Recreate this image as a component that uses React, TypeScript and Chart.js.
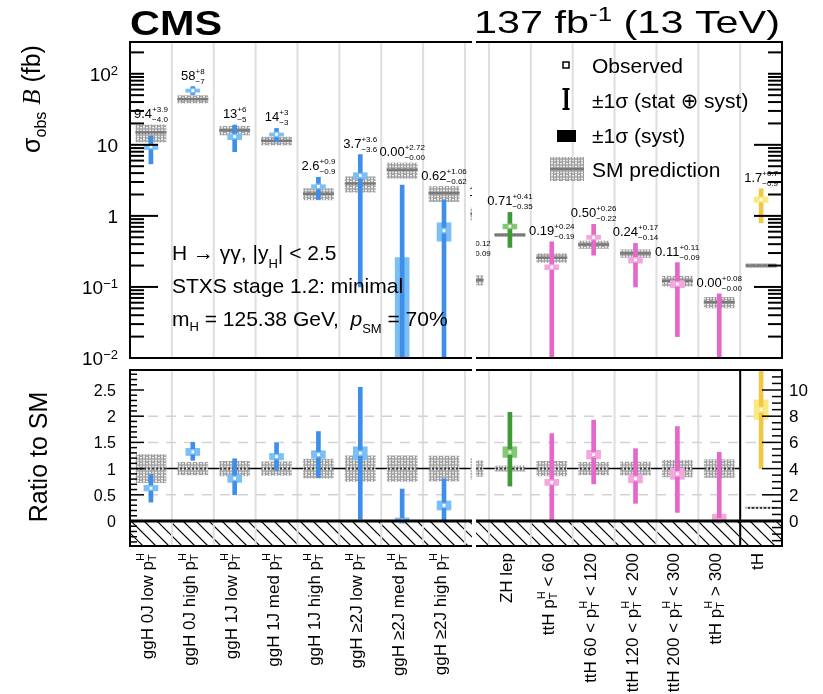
import { useEffect, useRef } from 'react';
import { Chart, registerables } from 'chart.js';

Chart.register(...registerables);

const PAGE_W = 823;
const PAGE_H = 694;
const SANS = '"Liberation Sans", Arial, Helvetica, "DejaVu Sans", sans-serif';
const SERIF = '"Liberation Serif", "Times New Roman", serif';

/* ---------------- measured cross sections (fb) ---------------- */

// ggH block; the ninth bin straddles the panel edge, so only a sliver of it shows
const ggHBins = [
  'ggH 0J low p_T^H',
  'ggH 0J high p_T^H',
  'ggH 1J low p_T^H',
  'ggH 1J med p_T^H',
  'ggH 1J high p_T^H',
  'ggH ≥2J low p_T^H',
  'ggH ≥2J med p_T^H',
  'ggH ≥2J high p_T^H',
  '',
];
const ggHPos = [0, 1, 2, 3, 4, 5, 6, 7, 8];
const ggHProc = ['ggH', 'ggH', 'ggH', 'ggH', 'ggH', 'ggH', 'ggH', 'ggH', 'ggH'];
const ggHObs = [9.4, 58, 13, 14, 2.6, 3.7, 0.0, 0.62, 1.1];
const ggHUp = [3.9, 8, 6, 3, 0.9, 3.6, 2.72, 1.06, 0.4];
const ggHDown = [4.0, 7, 5, 3, 0.9, 3.6, 0.0, 0.62, 0.4];
const ggHSyst = [0.8, 3, 1.2, 0.7, 0.15, 0.35, 0.26, 0.18, 0.1];
const ggHSM = [15, 44, 16, 11.4, 2.05, 2.86, 4.46, 2.09, 1.07];
const ggHSMUnc = [0.27, 0.12, 0.14, 0.13, 0.18, 0.245, 0.245, 0.24, 0.2];
const ggHDigits = [1, 0, 0, 0, 1, 1, 2, 2, 1];

// associated-production block; the first bin straddles the panel edge
const assocBins = [
  '',
  'ZH lep',
  'ttH p_T^H < 60',
  'ttH 60 < p_T^H < 120',
  'ttH 120 < p_T^H < 200',
  'ttH 200 < p_T^H < 300',
  'ttH p_T^H > 300',
  'tH',
];
const assocPos = [-1, 0, 1, 2, 3, 4, 5, 6];
const assocProc = ['VH', 'ZH', 'ttH', 'ttH', 'ttH', 'ttH', 'ttH', 'tH'];
const assocObs = [0.13, 0.71, 0.19, 0.5, 0.24, 0.11, 0.0, 1.7];
const assocUp = [0.12, 0.41, 0.24, 0.26, 0.17, 0.11, 0.08, 0.7];
const assocDown = [0.09, 0.35, 0.19, 0.22, 0.14, 0.09, 0.0, 0.9];
const assocSyst = [0.02, 0.055, 0.015, 0.033, 0.024, 0.013, 0.008, 0.15];
const assocSM = [0.125, 0.54, 0.258, 0.395, 0.297, 0.122, 0.061, 0.2];
const assocSMUnc = [0.15, 0.05, 0.14, 0.12, 0.125, 0.16, 0.17, 0.06];
const assocDigits = [2, 2, 2, 2, 2, 2, 2, 1];

/* ---------------- axis ticks ---------------- */
const logTickValues = [0.01, 0.1, 1, 10, 100];
const logTickBase = ['10', '10', '1', '10', '10'];
const logTickPower = ['−2', '−1', '', '', '2'];
const ratioTickValues = [0, 0.5, 1, 1.5, 2, 2.5];
const tHRatioTickValues = [0, 2, 4, 6, 8, 10];
const ratioGridValues = [0.5, 1.5, 2];

/* ---------------- styles & layout ---------------- */
const PROC_STYLE: Record<string, { total: string; syst: string }> = {
  ggH: { total: '#3d8fe8', syst: '#7cbff5' },
  VH: { total: '#e8a33d', syst: '#f5cf8a' },
  ZH: { total: '#3d9a35', syst: '#84c876' },
  ttH: { total: '#e467c9', syst: '#f3a8dd' },
  tH: { total: '#f2c744', syst: '#fbe97f' },
};

type Area = { l: number; r: number; t: number; b: number };
const AREA: Record<string, Area> = {
  tl: { l: 130, r: 472, t: 42, b: 358 },
  tr: { l: 476, r: 782, t: 42, b: 358 },
  bl: { l: 130, r: 472, t: 370, b: 546 },
  br: { l: 476, r: 782, t: 370, b: 546 },
};
const BIN_W = 41.87;
const LEFT_X = [-0.5, -0.5 + (472 - 130) / BIN_W];
const RIGHT_X = [-(509.9 - 476) / BIN_W, (782 - 509.9) / BIN_W];
const SIGMA_RANGE = [0.01, 280];
const RATIO_RANGE = [-(546 - 521) / 52.4, (521 - 370) / 52.4];
const TH_SCALE = 4;

type Block = {
  bins: string[]; pos: number[]; proc: string[]; obs: number[]; up: number[]; down: number[];
  syst: number[]; sm: number[]; smUnc: number[]; digits: number[];
};
const ggHBlock: Block = {
  bins: ggHBins, pos: ggHPos, proc: ggHProc, obs: ggHObs, up: ggHUp, down: ggHDown,
  syst: ggHSyst, sm: ggHSM, smUnc: ggHSMUnc, digits: ggHDigits,
};
const assocBlock: Block = {
  bins: assocBins, pos: assocPos, proc: assocProc, obs: assocObs, up: assocUp, down: assocDown,
  syst: assocSyst, sm: assocSM, smUnc: assocSMUnc, digits: assocDigits,
};

/* ---------------- text helpers ---------------- */
type Seg = { text?: string; sup?: string; sub?: string; font: string; dy?: number; supDy?: number; subDy?: number };

function segWidth(ctx: CanvasRenderingContext2D, s: Seg) {
  ctx.font = s.font;
  if (s.text !== undefined) return ctx.measureText(s.text).width;
  return Math.max(ctx.measureText(s.sup || '').width, ctx.measureText(s.sub || '').width);
}
function segsWidth(ctx: CanvasRenderingContext2D, segs: Seg[]) {
  return segs.reduce((w, s) => w + segWidth(ctx, s), 0);
}
function drawSegs(ctx: CanvasRenderingContext2D, segs: Seg[], x: number, y: number, align = 'left') {
  const total = segsWidth(ctx, segs);
  let cx = align === 'left' ? x : align === 'center' ? x - total / 2 : x - total;
  ctx.textAlign = 'left';
  ctx.textBaseline = 'alphabetic';
  for (const s of segs) {
    const w = segWidth(ctx, s);
    ctx.font = s.font;
    if (s.text !== undefined) {
      ctx.fillText(s.text, cx, y + (s.dy || 0));
    } else {
      if (s.sup) ctx.fillText(s.sup, cx, y + (s.supDy || 0));
      if (s.sub) ctx.fillText(s.sub, cx, y + (s.subDy || 0));
    }
    cx += w;
  }
  return total;
}
function drawFitted(ctx: CanvasRenderingContext2D, segs: Seg[], x: number, y: number, width: number) {
  const w = segsWidth(ctx, segs);
  ctx.save();
  ctx.translate(x, y);
  ctx.scale(width / w, 1);
  drawSegs(ctx, segs, 0, 0, 'left');
  ctx.restore();
}

function valueLabel(b: Block, i: number): Seg[] {
  const d = b.digits[i];
  return [
    { text: b.obs[i].toFixed(d), font: `13px ${SANS}` },
    { sup: '+' + b.up[i].toFixed(d), sub: '−' + b.down[i].toFixed(d), font: `8px ${SANS}`, supDy: -6, subDy: 4 },
  ];
}

function binLabelSegs(label: string): Seg[] {
  const big = `17px ${SANS}`;
  const small = `11px ${SANS}`;
  const out: Seg[] = [];
  const parts = label.split('p_T^H');
  parts.forEach((part, j) => {
    if (part) out.push({ text: part, font: big });
    if (j < parts.length - 1) {
      out.push({ text: 'p', font: big });
      out.push({ sup: 'H', sub: 'T', font: small, supDy: -9, subDy: 3 });
    }
  });
  return out;
}

/* ---------------- drawing helpers ---------------- */
function hLine(ctx: CanvasRenderingContext2D, x1: number, x2: number, y: number) {
  ctx.beginPath();
  ctx.moveTo(x1, y);
  ctx.lineTo(x2, y);
  ctx.stroke();
}
function vLine(ctx: CanvasRenderingContext2D, x: number, y1: number, y2: number) {
  ctx.beginPath();
  ctx.moveTo(x, y1);
  ctx.lineTo(x, y2);
  ctx.stroke();
}

function drawBinGrid(chart: any) {
  const { ctx, chartArea: a, scales } = chart;
  const xs = scales.x;
  ctx.save();
  ctx.strokeStyle = '#dedede';
  ctx.lineWidth = 2;
  for (let p = Math.floor(xs.min) + 0.5; p < xs.max - 0.01; p += 1) {
    if (p <= xs.min + 0.01) continue;
    vLine(ctx, xs.getPixelForValue(p), a.top, a.bottom);
  }
  ctx.restore();
}

function logTicks(ctx: CanvasRenderingContext2D, scale: any, xEdge: number, dir: number) {
  for (let e = -2; e <= 2; e++) {
    for (let m = 1; m <= 9; m++) {
      const v = m * Math.pow(10, e);
      if (v < scale.min * 0.999 || v > scale.max) continue;
      const len = m === 1 && v < 50 ? 28 : 14;
      hLine(ctx, xEdge, xEdge + dir * len, scale.getPixelForValue(v));
    }
  }
}

function linTicks(ctx: CanvasRenderingContext2D, scale: any, xEdge: number, dir: number, step: number, major: number, majorLen: number, minorLen: number) {
  const start = Math.ceil(scale.min / step - 1e-6);
  for (let k = start; k * step <= scale.max + 1e-9; k++) {
    const v = k * step;
    const isMajor = Math.abs(v / major - Math.round(v / major)) < 1e-6;
    hLine(ctx, xEdge, xEdge + dir * (isMajor ? majorLen : minorLen), scale.getPixelForValue(v));
  }
}

function drawValueLabels(chart: any, b: Block) {
  const { ctx, chartArea: a, scales } = chart;
  ctx.save();
  ctx.beginPath();
  ctx.rect(a.left, a.top, a.right - a.left, a.bottom - a.top);
  ctx.clip();
  ctx.fillStyle = '#000';
  b.bins.forEach((_, i) => {
    const px = scales.x.getPixelForValue(b.pos[i]);
    const barTop = scales.y.getPixelForValue(b.obs[i] + b.up[i]);
    const bandTop = scales.y.getPixelForValue(b.sm[i] * (1 + b.smUnc[i]));
    drawSegs(ctx, valueLabel(b, i), px, Math.min(barTop, bandTop) - 7, 'center');
  });
  ctx.restore();
}

function drawBinLabels(chart: any, b: Block) {
  const { ctx, chartArea: a, scales } = chart;
  ctx.save();
  ctx.fillStyle = '#000';
  b.bins.forEach((label, i) => {
    if (!label) return;
    const px = scales.x.getPixelForValue(b.pos[i]);
    if (px < a.left || px > a.right) return;
    ctx.save();
    ctx.translate(px + 2, a.bottom + 7);
    ctx.rotate(-Math.PI / 2);
    drawSegs(ctx, binLabelSegs(label), 0, 0, 'right');
    ctx.restore();
  });
  ctx.restore();
}

function ratioBackground(chart: any, unitLineEnd?: number) {
  const { ctx, chartArea: a, scales } = chart;
  const y = scales.y;
  const y0 = y.getPixelForValue(0);
  const h = a.bottom - y0;
  // hatched region below zero
  ctx.save();
  ctx.beginPath();
  ctx.rect(a.left, y0, a.right - a.left, h);
  ctx.clip();
  ctx.strokeStyle = '#000';
  ctx.lineWidth = 1.1;
  for (let sx = a.left - h; sx < a.right; sx += 13) {
    ctx.beginPath();
    ctx.moveTo(sx, y0);
    ctx.lineTo(sx + h, a.bottom);
    ctx.stroke();
  }
  ctx.restore();
  drawBinGrid(chart);
  ctx.save();
  ctx.strokeStyle = '#d2d2d2';
  ctx.lineWidth = 1.5;
  ctx.setLineDash([10, 8]);
  ratioGridValues.forEach((v) => hLine(ctx, a.left, a.right, y.getPixelForValue(v)));
  ctx.setLineDash([]);
  ctx.strokeStyle = '#000';
  ctx.lineWidth = 1.5;
  const xEnd = unitLineEnd !== undefined ? scales.x.getPixelForValue(unitLineEnd) : a.right;
  hLine(ctx, a.left, xEnd, y.getPixelForValue(1));
  ctx.restore();
}

/* ---------------- datasets ---------------- */
type Patterns = { band: CanvasPattern; dots: CanvasPattern };

function makePatterns(): Patterns {
  // small staggered rings for the SM uncertainty bands
  const bandTile = document.createElement('canvas');
  bandTile.width = 6;
  bandTile.height = 6;
  const g = bandTile.getContext('2d')!;
  g.fillStyle = '#f2f2f2';
  g.fillRect(0, 0, 6, 6);
  g.strokeStyle = '#9c9c9c';
  g.lineWidth = 1.2;
  [[3, 1.5], [0, 4.5], [6, 4.5], [3, 7.5], [3, -1.5]].forEach(([cx, cy]) => {
    g.beginPath();
    g.arc(cx, cy, 1.7, 0, Math.PI * 2);
    g.stroke();
  });
  const dotTile = document.createElement('canvas');
  dotTile.width = 4;
  dotTile.height = 4;
  const d = dotTile.getContext('2d')!;
  d.fillStyle = '#3a3a3a';
  d.fillRect(0, 0, 2, 4);
  const ctx = document.createElement('canvas').getContext('2d')!;
  return {
    band: ctx.createPattern(bandTile, 'repeat')!,
    dots: ctx.createPattern(dotTile, 'repeat')!,
  };
}

function blockDatasets(b: Block, idx: number[], ratio: boolean, yAxisID: string, pat: Patterns) {
  const floor = ratio ? 0 : 1e-4;
  const k = (i: number) => (ratio ? 1 / b.sm[i] : 1);
  const lo = (v: number) => Math.max(v, floor);
  const totalCol = idx.map((i) => PROC_STYLE[b.proc[i]].total);
  const systCol = idx.map((i) => PROC_STYLE[b.proc[i]].syst);
  const common = { yAxisID, clip: 0 };
  return [
    {
      ...common, type: 'scatter', order: 0,
      data: idx.map((i) => ({ x: b.pos[i], y: lo(b.obs[i] * k(i)) })),
      pointStyle: 'rect', pointRadius: 3, pointBackgroundColor: '#ffffff',
      pointBorderColor: systCol, pointBorderWidth: 1.5,
    },
    {
      ...common, type: 'bar', order: 1, grouped: false, barThickness: 4, borderWidth: 0,
      data: idx.map((i) => ({ x: b.pos[i], y: [lo((b.obs[i] - b.down[i]) * k(i)), (b.obs[i] + b.up[i]) * k(i)] })),
      backgroundColor: totalCol,
    },
    {
      ...common, type: 'bar', order: 2, grouped: false, barThickness: 14, borderWidth: 0,
      data: idx.map((i) => ({
        x: b.pos[i],
        y: [lo((b.obs[i] - Math.min(b.syst[i], b.obs[i])) * k(i)), (b.obs[i] + b.syst[i]) * k(i)],
      })),
      backgroundColor: systCol,
    },
    {
      ...common, type: 'scatter', order: 3,
      data: idx.map((i) => ({ x: b.pos[i], y: b.sm[i] * k(i) })),
      pointStyle: 'line', pointRadius: 15.5,
      pointBorderColor: ratio ? pat.dots : '#7a7a7a', pointBorderWidth: ratio ? 2 : 2.5,
    },
    {
      ...common, type: 'bar', order: 4, grouped: false, barThickness: 30, borderWidth: 0,
      data: idx.map((i) => ({
        x: b.pos[i],
        y: [b.sm[i] * (1 - b.smUnc[i]) * k(i), b.sm[i] * (1 + b.smUnc[i]) * k(i)],
      })),
      backgroundColor: pat.band,
    },
  ];
}

function panelConfig(area: Area, xRange: number[], yScales: any, datasets: any[], hooks: any): any {
  return {
    type: 'bar',
    data: { datasets },
    options: {
      responsive: false,
      animation: false,
      devicePixelRatio: 1,
      events: [],
      layout: { padding: { left: area.l, top: area.t, right: PAGE_W - area.r, bottom: PAGE_H - area.b } },
      plugins: { legend: { display: false }, tooltip: { enabled: false } },
      scales: {
        x: { type: 'linear', display: false, min: xRange[0], max: xRange[1], offset: false },
        ...yScales,
      },
    },
    plugins: [{ id: 'panelDecor', beforeDatasetsDraw: hooks.before, afterDatasetsDraw: hooks.after }],
  };
}

/* ---------------- panels ---------------- */
function topLeft(canvas: HTMLCanvasElement, pat: Patterns) {
  const idx = ggHBins.map((_, i) => i);
  return new Chart(canvas, panelConfig(
    AREA.tl, LEFT_X,
    { y: { type: 'logarithmic', display: false, min: SIGMA_RANGE[0], max: SIGMA_RANGE[1] } },
    blockDatasets(ggHBlock, idx, false, 'y', pat),
    {
      before: (chart: any) => drawBinGrid(chart),
      after: (chart: any) => {
        const { ctx, chartArea: a, scales } = chart;
        drawValueLabels(chart, ggHBlock);
        ctx.save();
        ctx.strokeStyle = '#000';
        ctx.lineWidth = 2;
        hLine(ctx, a.left, a.right, a.top);
        hLine(ctx, a.left, a.right, a.bottom);
        vLine(ctx, a.left, a.top - 1, a.bottom + 1);
        logTicks(ctx, scales.y, a.left, 1);
        ctx.fillStyle = '#000';
        logTickValues.forEach((v, i) => {
          const py = scales.y.getPixelForValue(v);
          const segs: Seg[] = [{ text: logTickBase[i], font: `19px ${SANS}` }];
          if (logTickPower[i]) segs.push({ text: logTickPower[i], font: `13px ${SANS}`, dy: -6 });
          drawSegs(ctx, segs, 118, py + 7, 'right');
        });
        // experiment label
        drawFitted(ctx, [{ text: 'CMS', font: `bold 35px ${SANS}` }], 130, 35, 92);
        // analysis annotations
        const f = `21px ${SANS}`;
        const s = `13px ${SANS}`;
        drawSegs(ctx, [{ text: 'H → γγ, |y', font: f }, { text: 'H', font: s, dy: 8 }, { text: '| < 2.5', font: f }], 172, 260);
        drawSegs(ctx, [{ text: 'STXS stage 1.2: minimal', font: f }], 172, 293);
        drawSegs(ctx, [
          { text: 'm', font: f }, { text: 'H', font: s, dy: 5 }, { text: ' = 125.38 GeV,  ', font: f },
          { text: 'p', font: `italic 21px ${SANS}` }, { text: 'SM', font: s, dy: 7 }, { text: ' = 70%', font: f },
        ], 172, 326);
        // axis title
        ctx.save();
        ctx.translate(40, 99);
        ctx.rotate(-Math.PI / 2);
        drawSegs(ctx, [
          { text: 'σ', font: `25px ${SANS}` }, { text: 'obs', font: `16px ${SANS}`, dy: 6 },
          { text: ' ', font: `25px ${SANS}` }, { text: 'B', font: `italic 25px ${SERIF}` },
          { text: ' (fb)', font: `25px ${SANS}` },
        ], 0, 0, 'center');
        ctx.restore();
        ctx.restore();
      },
    },
  ));
}

function topRight(canvas: HTMLCanvasElement, pat: Patterns) {
  const idx = assocBins.map((_, i) => i);
  return new Chart(canvas, panelConfig(
    AREA.tr, RIGHT_X,
    { y: { type: 'logarithmic', display: false, min: SIGMA_RANGE[0], max: SIGMA_RANGE[1] } },
    blockDatasets(assocBlock, idx, false, 'y', pat),
    {
      before: (chart: any) => drawBinGrid(chart),
      after: (chart: any) => {
        const { ctx, chartArea: a, scales } = chart;
        drawValueLabels(chart, assocBlock);
        ctx.save();
        ctx.strokeStyle = '#000';
        ctx.lineWidth = 2;
        hLine(ctx, a.left, a.right, a.top);
        hLine(ctx, a.left, a.right, a.bottom);
        vLine(ctx, a.right, a.top - 1, a.bottom + 1);
        logTicks(ctx, scales.y, a.right, -1);
        // legend
        ctx.lineWidth = 1.5;
        ctx.fillStyle = '#fff';
        ctx.fillRect(563, 62, 6, 6);
        ctx.strokeRect(563, 62, 6, 6);
        ctx.fillStyle = '#000';
        ctx.fillRect(564.5, 89, 3.5, 20);
        ctx.fillRect(562.5, 88, 7, 2);
        ctx.fillRect(562.5, 108, 7, 2);
        ctx.fillRect(557, 130, 19, 12);
        ctx.fillStyle = pat.band;
        ctx.fillRect(550, 157, 34, 24);
        ctx.strokeStyle = '#7a7a7a';
        ctx.lineWidth = 2.5;
        hLine(ctx, 550, 584, 169);
        ctx.fillStyle = '#000';
        const f = `21px ${SANS}`;
        drawSegs(ctx, [{ text: 'Observed', font: f }], 592, 73);
        drawSegs(ctx, [{ text: '±1σ (stat ⊕ syst)', font: f }], 592, 108);
        drawSegs(ctx, [{ text: '±1σ (syst)', font: f }], 592, 143);
        drawSegs(ctx, [{ text: 'SM prediction', font: f }], 592, 177);
        // luminosity label
        drawFitted(ctx, [
          { text: '137 fb', font: `32px ${SANS}` },
          { text: '-1', font: `20px ${SANS}`, dy: -12 },
          { text: ' (13 TeV)', font: `32px ${SANS}` },
        ], 474, 33, 306);
        ctx.restore();
      },
    },
  ));
}

function ratioTickLabelsLeft(chart: any) {
  const { ctx, scales } = chart;
  ctx.fillStyle = '#000';
  ratioTickValues.forEach((v) => {
    drawSegs(ctx, [{ text: String(v), font: `16px ${SANS}` }], 116, scales.y.getPixelForValue(v) + 6, 'right');
  });
}

function bottomLeft(canvas: HTMLCanvasElement, pat: Patterns) {
  const idx = ggHBins.map((_, i) => i);
  return new Chart(canvas, panelConfig(
    AREA.bl, LEFT_X,
    { y: { type: 'linear', display: false, min: RATIO_RANGE[0], max: RATIO_RANGE[1] } },
    blockDatasets(ggHBlock, idx, true, 'y', pat),
    {
      before: (chart: any) => ratioBackground(chart),
      after: (chart: any) => {
        const { ctx, chartArea: a, scales } = chart;
        ctx.save();
        ctx.strokeStyle = '#000';
        ctx.lineWidth = 2;
        hLine(ctx, a.left, a.right, a.top);
        hLine(ctx, a.left, a.right, a.bottom);
        vLine(ctx, a.left, a.top - 1, a.bottom + 1);
        ctx.lineWidth = 1.5;
        linTicks(ctx, scales.y, a.left, 1, 0.1, 0.5, 14, 7);
        ctx.lineWidth = 3;
        hLine(ctx, a.left, a.right, scales.y.getPixelForValue(0));
        ratioTickLabelsLeft(chart);
        drawBinLabels(chart, ggHBlock);
        ctx.fillStyle = '#000';
        ctx.save();
        ctx.translate(47, 457);
        ctx.rotate(-Math.PI / 2);
        drawSegs(ctx, [{ text: 'Ratio to SM', font: `25px ${SANS}` }], 0, 0, 'center');
        ctx.restore();
        ctx.restore();
      },
    },
  ));
}

function bottomRight(canvas: HTMLCanvasElement, pat: Patterns) {
  const assocIdx = [0, 1, 2, 3, 4, 5, 6];
  const tHIdx = [7];
  const sep = 5.5;
  return new Chart(canvas, panelConfig(
    AREA.br, RIGHT_X,
    {
      y: { type: 'linear', display: false, min: RATIO_RANGE[0], max: RATIO_RANGE[1] },
      y2: { type: 'linear', display: false, position: 'right', min: RATIO_RANGE[0] * TH_SCALE, max: RATIO_RANGE[1] * TH_SCALE },
    },
    [
      ...blockDatasets(assocBlock, assocIdx, true, 'y', pat),
      ...blockDatasets(assocBlock, tHIdx, true, 'y2', pat),
    ],
    {
      before: (chart: any) => ratioBackground(chart, sep),
      after: (chart: any) => {
        const { ctx, chartArea: a, scales } = chart;
        ctx.save();
        ctx.strokeStyle = '#000';
        ctx.lineWidth = 2;
        hLine(ctx, a.left, a.right, a.top);
        hLine(ctx, a.left, a.right, a.bottom);
        vLine(ctx, a.right, a.top - 1, a.bottom + 1);
        vLine(ctx, scales.x.getPixelForValue(sep), a.top, a.bottom);
        ctx.lineWidth = 1.5;
        linTicks(ctx, scales.y2, a.right, -1, 0.5, 2, 20, 10);
        ctx.lineWidth = 3;
        hLine(ctx, a.left, a.right, scales.y.getPixelForValue(0));
        ctx.fillStyle = '#000';
        tHRatioTickValues.forEach((v) => {
          drawSegs(ctx, [{ text: String(v), font: `17px ${SANS}` }], 789, scales.y2.getPixelForValue(v) + 6, 'left');
        });
        drawBinLabels(chart, assocBlock);
        ctx.restore();
      },
    },
  ));
}

export default function App() {
  const tl = useRef<HTMLCanvasElement>(null);
  const tr = useRef<HTMLCanvasElement>(null);
  const bl = useRef<HTMLCanvasElement>(null);
  const br = useRef<HTMLCanvasElement>(null);

  useEffect(() => {
    if (!tl.current || !tr.current || !bl.current || !br.current) return;
    const pat = makePatterns();
    const charts = [
      bottomLeft(bl.current, pat),
      bottomRight(br.current, pat),
      topLeft(tl.current, pat),
      topRight(tr.current, pat),
    ];
    return () => charts.forEach((c) => c.destroy());
  }, []);

  const canvasStyle = { position: 'absolute', left: 0, top: 0, width: PAGE_W, height: PAGE_H } as const;
  return (
    <div style={{ position: 'fixed', left: 0, top: 0, width: PAGE_W, height: PAGE_H, background: '#ffffff', overflow: 'hidden' }}>
      <canvas ref={bl} width={PAGE_W} height={PAGE_H} style={canvasStyle} />
      <canvas ref={br} width={PAGE_W} height={PAGE_H} style={canvasStyle} />
      <canvas ref={tl} width={PAGE_W} height={PAGE_H} style={canvasStyle} />
      <canvas ref={tr} width={PAGE_W} height={PAGE_H} style={canvasStyle} />
    </div>
  );
}
